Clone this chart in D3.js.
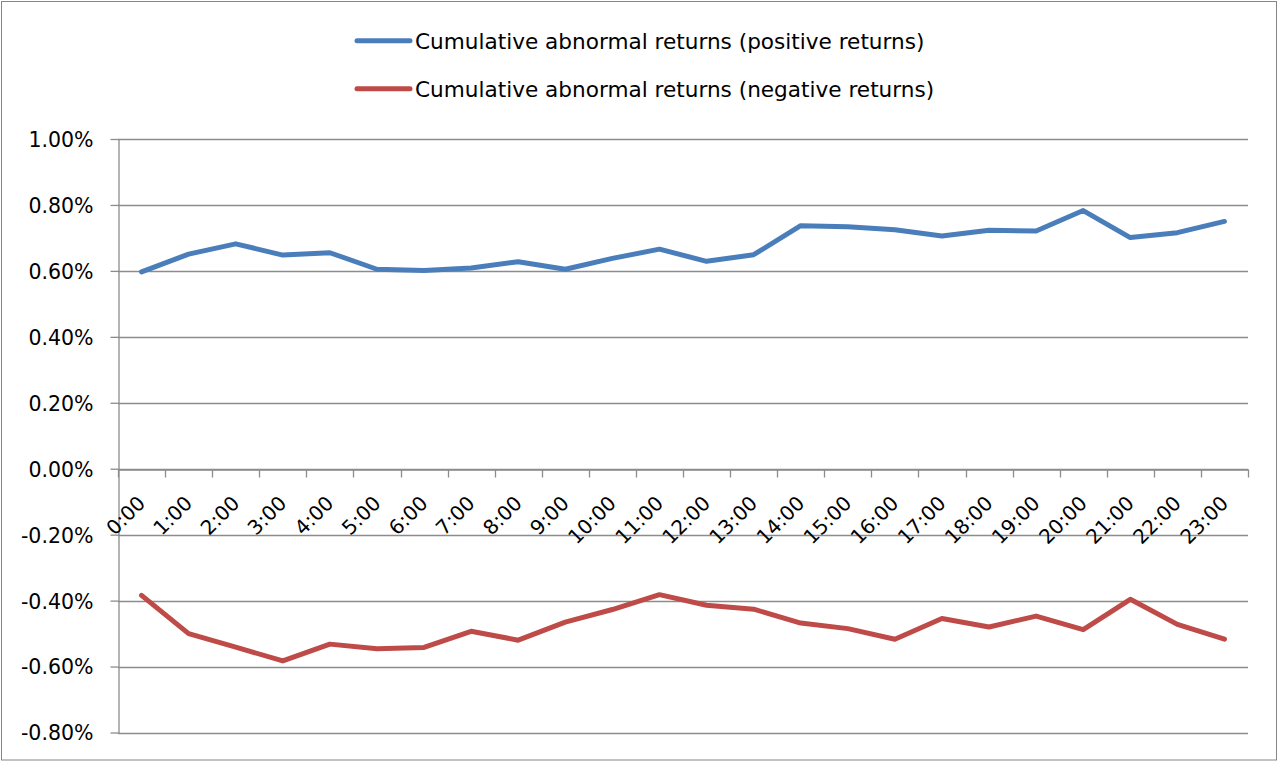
<!DOCTYPE html>
<html>
<head>
<meta charset="utf-8">
<script src="https://cdn.jsdelivr.net/npm/d3@7"></script>
<style>
  body { margin: 0; background: #fff; }
  svg text { font-family: "DejaVu Sans", sans-serif; fill: #000; }
</style>
</head>
<body>
<script>
// hours on the x axis
var hours = ["0:00","1:00","2:00","3:00","4:00","5:00","6:00","7:00","8:00","9:00","10:00","11:00",
             "12:00","13:00","14:00","15:00","16:00","17:00","18:00","19:00","20:00","21:00","22:00","23:00"];

// cumulative abnormal returns, in percent
var positiveCar = [0.597, 0.651, 0.682, 0.648, 0.655, 0.605, 0.601, 0.609, 0.628, 0.605, 0.638, 0.666,
                   0.629, 0.649, 0.737, 0.734, 0.725, 0.706, 0.723, 0.721, 0.783, 0.701, 0.716, 0.750];
var negativeCar = [-0.384, -0.500, -0.541, -0.583, -0.532, -0.546, -0.542, -0.493, -0.520, -0.465, -0.427, -0.382,
                   -0.414, -0.426, -0.468, -0.485, -0.517, -0.454, -0.480, -0.447, -0.488, -0.396, -0.472, -0.517];

var seriesNames = ["Cumulative abnormal returns (positive returns)",
                   "Cumulative abnormal returns (negative returns)"];
var seriesColors = ["#4a7ebb", "#be4b48"];

var yTicks = [1.0, 0.8, 0.6, 0.4, 0.2, 0.0, -0.2, -0.4, -0.6, -0.8];

var width = 1279,
    height = 762;

var svg = d3.select("body").append("svg")
    .attr("width", width)
    .attr("height", height);

// chart frame
svg.append("rect")
    .attr("x", 1.5)
    .attr("y", 1.5)
    .attr("width", 1275)
    .attr("height", 758.5)
    .attr("fill", "#fff")
    .attr("stroke", "#868686")
    .attr("stroke-width", 1);

var x = d3.scaleBand()
    .domain(hours)
    .range([118, 1248]);

var y = d3.scaleLinear()
    .domain([-0.8, 1.0])
    .range([732.5, 139]);

// horizontal gridlines
svg.append("g")
    .selectAll("line")
    .data(yTicks)
    .enter()
    .append("line")
    .attr("x1", 118)
    .attr("x2", 1248)
    .attr("y1", function(d) { return Math.round(y(d)) + 0.5; })
    .attr("y2", function(d) { return Math.round(y(d)) + 0.5; })
    .attr("stroke", "#8c8c8c")
    .attr("stroke-width", 1.3);

// y axis
var yAxis = svg.append("g")
    .attr("transform", "translate(118.5,0)")
    .call(d3.axisLeft(y)
        .tickValues(yTicks)
        .tickSize(8)
        .tickSizeOuter(0)
        .tickPadding(17)
        .tickFormat(function(d) { return d.toFixed(2) + "%"; }));

yAxis.selectAll("line, path").attr("stroke", "#8c8c8c").attr("stroke-width", 1.3);
yAxis.selectAll("text")
    .style("font-size", "20.5px")
    .attr("dy", "0.36em");

// x axis sits on the zero line
var y0 = Math.round(y(0)) + 0.5;
var xAxis = svg.append("g")
    .attr("transform", "translate(0," + y0 + ")")
    .call(d3.axisBottom(x).tickSize(0).tickSizeOuter(0));

xAxis.select("path").attr("stroke", "#8c8c8c").attr("stroke-width", 1.3);
xAxis.selectAll("text")
    .style("font-size", "20px")
    .attr("y", 0)
    .attr("dy", 0)
    .attr("text-anchor", "end")
    .attr("transform", "translate(5,35) rotate(-45)");

// tick marks between categories
var boundaries = hours.map(function(h) { return x(h); }).concat([x.range()[1]]);
xAxis.append("g")
    .selectAll("line")
    .data(boundaries)
    .enter()
    .append("line")
    .attr("x1", function(d) { return Math.round(d) + 0.5; })
    .attr("x2", function(d) { return Math.round(d) + 0.5; })
    .attr("y1", 0)
    .attr("y2", 8)
    .attr("stroke", "#8c8c8c")
    .attr("stroke-width", 1.3);

// the two lines
var line = d3.line()
    .x(function(d, i) { return x(hours[i]) + x.bandwidth() / 2; })
    .y(function(d) { return y(d); });

[positiveCar, negativeCar].forEach(function(values, i) {
    svg.append("path")
        .datum(values)
        .attr("d", line)
        .attr("fill", "none")
        .attr("stroke", seriesColors[i])
        .attr("stroke-width", 5)
        .attr("stroke-linejoin", "round")
        .attr("stroke-linecap", "round");
});

// legend
var legend = svg.append("g")
    .selectAll("g")
    .data(seriesNames)
    .enter()
    .append("g")
    .attr("transform", function(d, i) { return "translate(0," + (40.7 + i * 48) + ")"; });

legend.append("line")
    .attr("x1", 357)
    .attr("x2", 410)
    .attr("stroke", function(d, i) { return seriesColors[i]; })
    .attr("stroke-width", 5)
    .attr("stroke-linecap", "round");

legend.append("text")
    .attr("x", 415)
    .attr("y", 8)
    .style("font-size", "21.6px")
    .text(function(d) { return d; });
</script>
</body>
</html>
